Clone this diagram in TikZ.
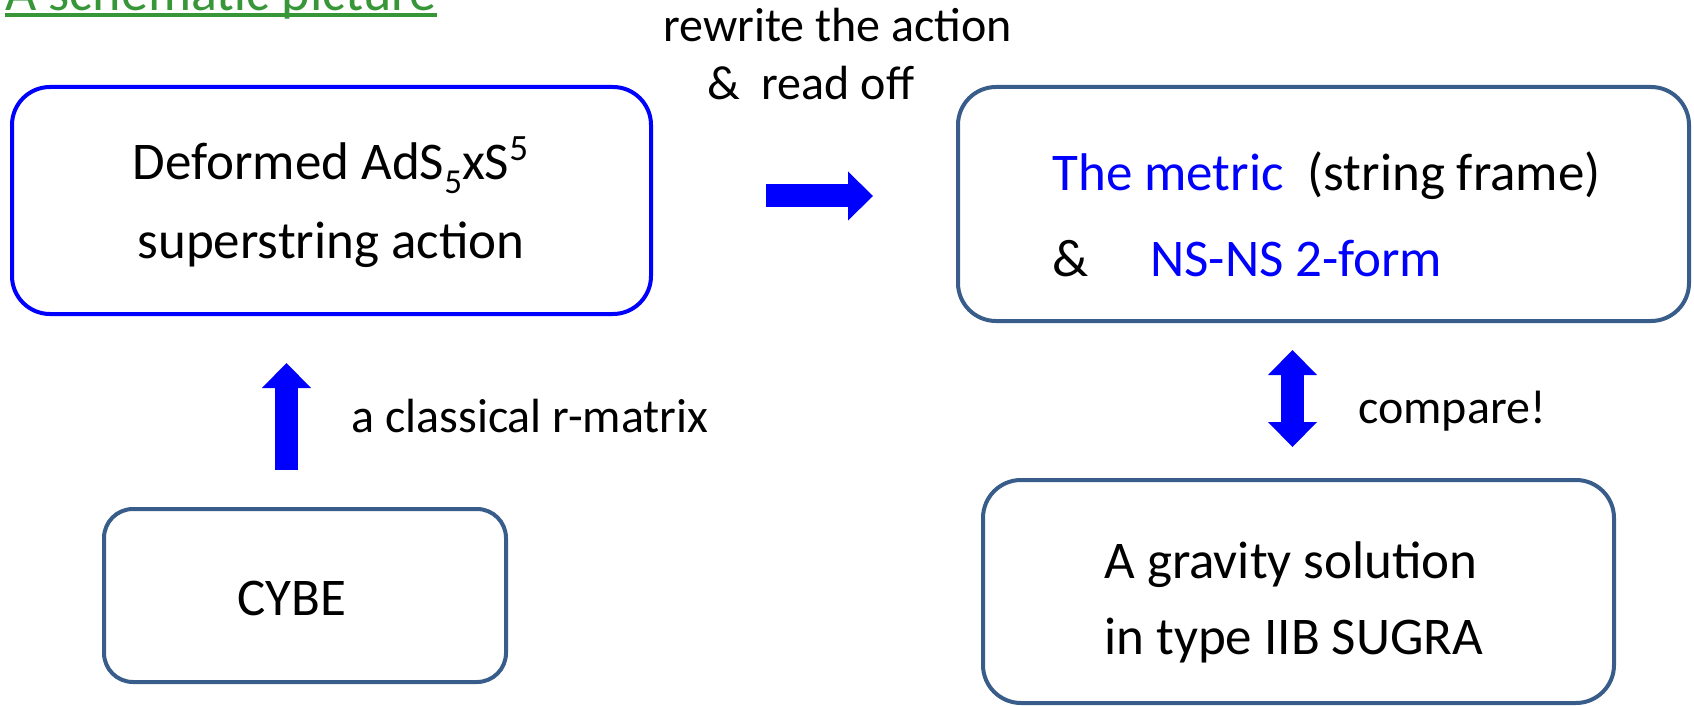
\documentclass[tikz,border=0pt]{standalone}
\usepackage{fontspec}
\setmainfont{Carlito}
\usetikzlibrary{arrows.meta}
\definecolor{boxblue}{RGB}{56,93,138}
\definecolor{titlegreen}{RGB}{55,150,55}

\begin{document}
\begin{tikzpicture}[x=0.5pt,y=-0.5pt,
        >={Triangle[length=12.5pt,width=24.5pt,line width=0pt]},
        box/.style={draw=boxblue, line width=2pt, rounded corners=19pt, inner sep=0pt},
        txt/.style={inner sep=0pt, font=\fontsize{24}{30}\selectfont},
        boxtxt/.style={inner sep=0pt, font=\fontsize{26.5}{39.5}\selectfont},
        bigarrow/.style={blue, line width=11.5pt}]
        \useasboundingbox (0,0) rectangle (1694,706);

        \node[box, draw=blue, minimum width=319.5pt, minimum height=113.5pt] (action) at (331.5,200.5) {};
        \node[box, minimum width=365.5pt, minimum height=117pt] (metric) at (1323.5,204) {};
        \node[box, rounded corners=14.5pt, minimum width=201pt, minimum height=86.5pt] (cybe) at (305,595.5) {};
        \node[box, minimum width=315.5pt, minimum height=111.5pt] (gravity) at (1298.5,591.5) {};

        \node[txt, anchor=base west, font=\fontsize{27}{30}\selectfont, text=titlegreen] (title) at (5,11) {A schematic picture};
        \draw[titlegreen, line width=1.75pt] ([yshift=-2pt]title.base west) -- ([yshift=-2pt]title.base east);

        \node[boxtxt, anchor=base, align=center] (actiontext) at (331,258) {Deformed AdS\raisebox{-0.28em}{\fontsize{17.5}{18}\selectfont 5}xS\textsuperscript{5}\\superstring action};
        \node[boxtxt, anchor=base west, align=left, font=\fontsize{26.5}{43.5}\selectfont] (metrictext) at (1052,277) {\textcolor{blue}{The metric}~~(string frame)\\\&\hspace*{31pt}\textcolor{blue}{NS-NS 2-form}};
        \node[boxtxt, anchor=base] (cybetext) at (292,615) {CYBE};
        \node[boxtxt, anchor=base west, align=left, font=\fontsize{26.5}{38}\selectfont] (gravitytext) at (1104,654) {A gravity solution\\in type IIB SUGRA};

        \node[txt, anchor=base west, align=left, font=\fontsize{24}{29}\selectfont] (rewrite) at (663,100) {rewrite the action\\\hspace*{22pt}\&~~read off};
        \node[txt, anchor=base west] (rmatrix) at (351,432) {a classical r-matrix};
        \node[txt, anchor=base west] (compare) at (1358,423) {compare!};

        \coordinate (r0) at (766,196);
        \coordinate (r1) at (873,196);
        \coordinate (u0) at (286.5,470);
        \coordinate (u1) at (286.5,363);
        \coordinate (c0) at (1292.5,447);
        \coordinate (c1) at (1292.5,350);

        \draw[bigarrow, ->] (r0) -- (r1);
        \draw[bigarrow, ->] (u0) -- (u1);
        \draw[bigarrow, <->] (c0) -- (c1);
    \end{tikzpicture}
\end{document}
